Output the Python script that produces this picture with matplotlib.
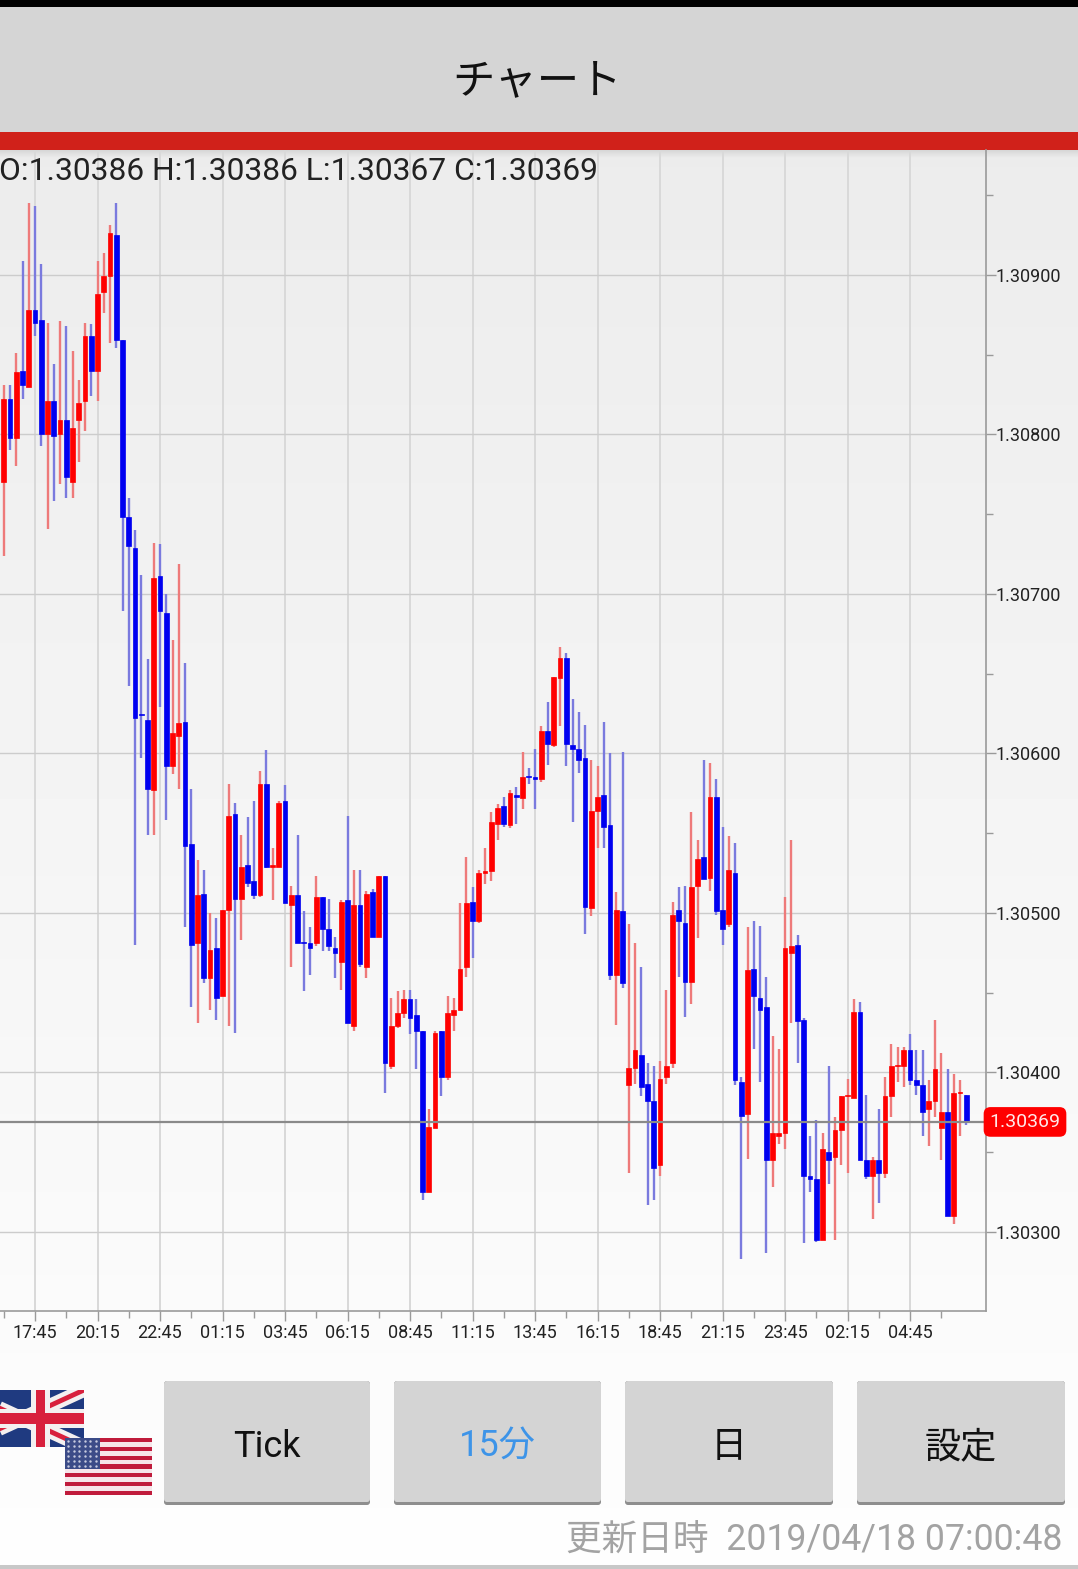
# FX 15 minute candle chart screenshot (GBP/USD)
import numpy as np
from matplotlib import pyplot as plt
from matplotlib.patches import Rectangle, FancyBboxPatch

plt.rcParams['font.family'] = ['Roboto', 'Noto Sans CJK JP', 'DejaVu Sans']

WIDTH = 1078
HEIGHT = 1569

# prices are written as 1.30xxx * 100000
opens = [
    130770, 130822, 130798, 130840, 130830, 130878, 130872, 130800, 130821, 130800,
    130809, 130770, 130809, 130821, 130862, 130840, 130889, 130899, 130925, 130859,
    130748, 130729, 130625, 130621, 130577, 130711, 130688, 130592, 130611, 130620,
    130543, 130481, 130512, 130459, 130478, 130448, 130502, 130562, 130509, 130530,
    130520, 130511, 130581, 130529, 130529, 130570, 130505, 130511, 130482, 130481,
    130481, 130510, 130490, 130478, 130469, 130508, 130429, 130505, 130466, 130513,
    130485, 130523, 130404, 130429, 130437, 130446, 130436, 130426, 130325, 130365,
    130426, 130397, 130436, 130439, 130466, 130507, 130495, 130525, 130526, 130556,
    130567, 130555, 130574, 130572, 130586, 130585, 130584, 130614, 130605, 130647,
    130660, 130605, 130603, 130597, 130503, 130564, 130574, 130555, 130461, 130501,
    130392, 130403, 130411, 130393, 130382, 130342, 130397, 130406, 130502, 130494,
    130457, 130517, 130535, 130522, 130573, 130502, 130493, 130525, 130394, 130374,
    130465, 130447, 130441, 130345, 130360, 130362, 130475, 130480, 130433, 130335,
    130333, 130295, 130350, 130347, 130364, 130385, 130384, 130438, 130345, 130335,
    130345, 130337, 130385, 130404, 130404, 130414, 130395, 130392, 130377, 130382,
    130365, 130375, 130310, 130387, 130386,
]
highs = [
    130831, 130831, 130851, 130909, 130945, 130943, 130907, 130870, 130844, 130871,
    130868, 130852, 130834, 130870, 130869, 130909, 130914, 130931, 130945, 130859,
    130760, 130740, 130712, 130659, 130732, 130731, 130700, 130671, 130719, 130657,
    130578, 130533, 130527, 130500, 130497, 130502, 130581, 130569, 130549, 130560,
    130570, 130589, 130602, 130541, 130570, 130580, 130517, 130549, 130501, 130491,
    130523, 130510, 130509, 130485, 130508, 130561, 130527, 130527, 130514, 130515,
    130523, 130523, 130447, 130451, 130452, 130452, 130446, 130426, 130377, 130426,
    130426, 130448, 130447, 130506, 130535, 130516, 130527, 130541, 130563, 130568,
    130573, 130577, 130579, 130601, 130591, 130603, 130617, 130632, 130648, 130667,
    130663, 130634, 130626, 130618, 130596, 130592, 130620, 130600, 130513, 130601,
    130493, 130481, 130466, 130406, 130404, 130407, 130452, 130507, 130516, 130517,
    130563, 130546, 130596, 130594, 130584, 130554, 130548, 130544, 130397, 130491,
    130495, 130492, 130460, 130423, 130415, 130510, 130546, 130486, 130434, 130360,
    130370, 130362, 130404, 130372, 130385, 130396, 130446, 130444, 130386, 130347,
    130377, 130397, 130418, 130416, 130416, 130424, 130414, 130414, 130395, 130433,
    130412, 130402, 130399, 130395, 130386,
]
lows = [
    130724, 130790, 130780, 130822, 130830, 130862, 130793, 130741, 130758, 130769,
    130760, 130760, 130783, 130802, 130824, 130821, 130876, 130857, 130854, 130689,
    130642, 130480, 130597, 130549, 130549, 130629, 130558, 130587, 130578, 130491,
    130441, 130431, 130456, 130439, 130433, 130448, 130429, 130425, 130483, 130516,
    130509, 130510, 130528, 130508, 130529, 130506, 130466, 130481, 130451, 130461,
    130479, 130476, 130476, 130459, 130452, 130431, 130426, 130466, 130459, 130485,
    130485, 130387, 130402, 130428, 130434, 130424, 130402, 130320, 130325, 130365,
    130385, 130395, 130426, 130439, 130460, 130472, 130494, 130518, 130520, 130546,
    130554, 130553, 130556, 130565, 130581, 130565, 130582, 130593, 130604, 130617,
    130592, 130557, 130588, 130487, 130498, 130541, 130541, 130458, 130430, 130453,
    130337, 130393, 130385, 130317, 130320, 130335, 130393, 130403, 130460, 130435,
    130443, 130484, 130521, 130514, 130499, 130480, 130491, 130392, 130283, 130346,
    130415, 130394, 130287, 130328, 130355, 130352, 130431, 130406, 130293, 130325,
    130294, 130295, 130330, 130295, 130342, 130337, 130384, 130345, 130333, 130308,
    130318, 130334, 130372, 130394, 130391, 130392, 130386, 130360, 130354, 130372,
    130345, 130310, 130305, 130360, 130367,
]
closes = [
    130822, 130798, 130839, 130831, 130878, 130870, 130800, 130821, 130799, 130809,
    130773, 130804, 130820, 130862, 130840, 130888, 130899, 130926, 130859, 130748,
    130730, 130622, 130624, 130578, 130710, 130689, 130592, 130613, 130619, 130542,
    130480, 130511, 130459, 130477, 130447, 130502, 130561, 130509, 130529, 130519,
    130511, 130581, 130529, 130530, 130569, 130506, 130511, 130481, 130481, 130478,
    130510, 130490, 130479, 130475, 130507, 130431, 130505, 130468, 130512, 130485,
    130523, 130406, 130429, 130437, 130446, 130434, 130426, 130325, 130366, 130425,
    130397, 130437, 130439, 130465, 130506, 130495, 130525, 130526, 130557, 130566,
    130556, 130575, 130573, 130585, 130585, 130584, 130614, 130606, 130648, 130660,
    130606, 130603, 130596, 130504, 130564, 130573, 130554, 130461, 130502, 130456,
    130403, 130414, 130391, 130382, 130340, 130396, 130404, 130499, 130495, 130457,
    130516, 130534, 130521, 130573, 130501, 130490, 130527, 130395, 130373, 130464,
    130448, 130439, 130345, 130362, 130362, 130478, 130479, 130432, 130335, 130333,
    130295, 130352, 130345, 130364, 130385, 130386, 130438, 130345, 130335, 130345,
    130337, 130385, 130404, 130405, 130414, 130395, 130392, 130375, 130382, 130402,
    130375, 130310, 130387, 130388, 130369,
]

# candle number of the first bar, label 17:45 is number 0
FIRST_BAR = -5
time_labels = ["17:45", "20:15", "22:45", "01:15", "03:45", "06:15", "08:45", "11:15",
               "13:45", "16:15", "18:45", "21:15", "23:45", "02:15", "04:45"]
price_labels = ["1.30900", "1.30800", "1.30700", "1.30600", "1.30500", "1.30400", "1.30300"]
half_prices = [1.3095, 1.3085, 1.3075, 1.3065, 1.3055, 1.3045, 1.3035]
last_ohlc = (1.30386, 1.30386, 1.30367, 1.30369)
button_labels = ["Tick", "15分", "日", "設定"]
update_text = "更新日時  2019/04/18 07:00:48"

RED = "#ff0000"
BLUE = "#0000f0"
RED_WICK = "#ee7a7a"
BLUE_WICK = "#7a7ade"
GRID_H = "#cccccc"
GRID_V = "#d9d9d9"
AXIS = "#9a9a9a"
BUTTON = "#d4d4d4"


def rect(ax, x0, y0, x1, y1, color, zorder=2):
    ax.add_patch(Rectangle((x0, y0), x1 - x0, y1 - y0, facecolor=color, edgecolor="none", zorder=zorder))


# union jack and stars and stripes
def drawFlags(ax):
    clip = Rectangle((-40, 1390), 124, 57, transform=ax.transData)
    rect(ax, 0, 1390, 84, 1447, "#1f3a80", 3)
    for xa, xb in [(-40, 84), (84, -40)]:
        for w, c in [(10, "#f4f0f0"), (3.5, "#d8203c")]:
            line, = ax.plot([xa, xb], [1390, 1447], color=c, lw=w, zorder=3, solid_capstyle="butt")
            line.set_clip_path(clip)
    rect(ax, 0, 1409, 84, 1428, "#f4f0f0", 3)
    rect(ax, 31, 1390, 50, 1447, "#f4f0f0", 3)
    rect(ax, 0, 1413, 84, 1424, "#d8203c", 3)
    rect(ax, 36, 1390, 45, 1447, "#d8203c", 3)

    rect(ax, 65, 1438, 152, 1495, "#f6e6ea", 4)
    for i in range(7):
        y = 1438 + i * 57 / 6.5
        rect(ax, 65, y, 152, y + 4.4, "#c01c3c", 4)
    rect(ax, 65, 1438, 100, 1469, "#3c4c88", 4)
    sx, sy = np.meshgrid(np.arange(68, 99, 5.5), np.arange(1441, 1468, 5))
    ax.scatter(sx.ravel(), sy.ravel(), s=3, color="#c8cce0", linewidths=0, zorder=4)


# header, footer and everything around the chart, in pixel coordinates
def drawScreen(ax):
    # page background
    shade = np.linspace(0.925, 0.995, 256).reshape(-1, 1)
    ax.imshow(shade, extent=(0, WIDTH, HEIGHT, 150), cmap="gray", vmin=0, vmax=1, aspect="auto", zorder=0)
    shadow = np.linspace(0.84, 0.925, 16).reshape(-1, 1)
    ax.imshow(shadow, extent=(0, WIDTH, 158, 150), cmap="gray", vmin=0, vmax=1, aspect="auto", zorder=1)
    ax.set_xlim(0, WIDTH)
    ax.set_ylim(HEIGHT, 0)
    ax.axis("off")

    # header
    rect(ax, 0, 0, WIDTH, 7, "#000000")
    rect(ax, 0, 7, WIDTH, 132, "#d5d5d5")
    rect(ax, 0, 132, WIDTH, 150, "#d0211a")
    ax.text(537, 82, "チャート", fontsize=30.5, ha="center", va="center", color="#111111", zorder=5)

    # footer
    rect(ax, 0, 1565, WIDTH, HEIGHT, "#c8c8c8")
    drawFlags(ax)

    lefts = [164, 394, 625, 857]
    rights = [370, 601, 833, 1065]
    for x0, x1, label in zip(lefts, rights, button_labels):
        ax.add_patch(FancyBboxPatch((x0, 1381), x1 - x0, 124, boxstyle="round,pad=0,rounding_size=3",
                                    facecolor="#8e8e8e", edgecolor="none", zorder=2))
        ax.add_patch(FancyBboxPatch((x0, 1381), x1 - x0, 121, boxstyle="round,pad=0,rounding_size=3",
                                    facecolor=BUTTON, edgecolor="none", zorder=3))
        color = "#3d94e8" if label == "15分" else "#111111"
        ax.text((x0 + x1) / 2, 1447, label, fontsize=26, ha="center", va="center", color=color, zorder=5)

    ax.text(1062, 1540, update_text, fontsize=25.7, ha="right", va="center", color="#a3a3a3", zorder=5)


# candle chart
def drawChart(ax):
    o = np.array(opens) / 100000
    h = np.array(highs) / 100000
    l = np.array(lows) / 100000
    c = np.array(closes) / 100000
    x = np.arange(len(o)) + FIRST_BAR
    up = c >= o

    ax.vlines(x[up], l[up], h[up], color=RED_WICK, lw=1.7, zorder=3)
    ax.vlines(x[~up], l[~up], h[~up], color=BLUE_WICK, lw=1.7, zorder=3)
    bodies = np.abs(c - o)
    bottoms = np.minimum(o, c)
    colors = [RED if u else BLUE for u in up]
    ax.bar(x, bodies, bottom=bottoms, width=0.76, color=colors, edgecolor=colors, linewidth=0.5, zorder=4)

    ax.set_xlim(-5.6, 152.16)
    ax.set_ylim(1.3025047, 1.309783)

    # grid
    xticks = np.arange(len(time_labels)) * 10
    yticks = [float(v) for v in price_labels]
    ax.set_xticks(xticks, time_labels)
    ax.set_yticks(yticks, price_labels)
    ax.set_xticks(np.arange(-5, 150, 10), minor=True)
    ax.set_yticks(half_prices, minor=True)
    ax.grid(True, axis="y", which="major", color=GRID_H, lw=1, zorder=1)
    ax.grid(True, axis="x", which="major", color=GRID_V, lw=1.4, zorder=1)
    ax.yaxis.tick_right()
    ax.tick_params(axis="both", which="major", length=7.5, width=1, color=AXIS, labelsize=13, labelcolor="#222222")
    ax.tick_params(axis="both", which="minor", length=5, width=1, color=AXIS)
    ax.tick_params(axis="x", which="major", pad=2)
    ax.tick_params(axis="y", which="major", pad=-1)
    for side in ["top", "left"]:
        ax.spines[side].set_visible(False)
    for side in ["right", "bottom"]:
        ax.spines[side].set_color(AXIS)
        ax.spines[side].set_linewidth(1.2)

    # current price
    price = last_ohlc[3]
    ax.axhline(price, color="#8a8a8a", lw=1.6, zorder=5)
    ax.annotate("{:.5f}".format(price), xy=(1, price), xycoords=("axes fraction", "data"),
                xytext=(39, 0), textcoords="offset pixels", ha="center", va="center",
                fontsize=14, color="#ffe8e8", annotation_clip=False, zorder=6,
                bbox=dict(boxstyle="round,pad=0.3,rounding_size=0.35", facecolor=RED, edgecolor="none"))

    # OHLC of the last bar
    ohlc_text = "O:{:.5f} H:{:.5f} L:{:.5f} C:{:.5f}".format(*last_ohlc)
    ax.annotate(ohlc_text, xy=(0, 1), xycoords="axes fraction", xytext=(-1, -21), textcoords="offset pixels",
                ha="left", va="center", fontsize=22.9, color="#222222", zorder=7)


fig = plt.figure(figsize=(WIDTH / 100, HEIGHT / 100), dpi=100)
screen = fig.add_axes([0, 0, 1, 1], zorder=0)
drawScreen(screen)

chart = fig.add_axes([0, 1 - 1311 / HEIGHT, 986 / WIDTH, (1311 - 150) / HEIGHT], zorder=1)
chart.patch.set_alpha(0)
drawChart(chart)

fig.savefig("out.png", dpi=100)
